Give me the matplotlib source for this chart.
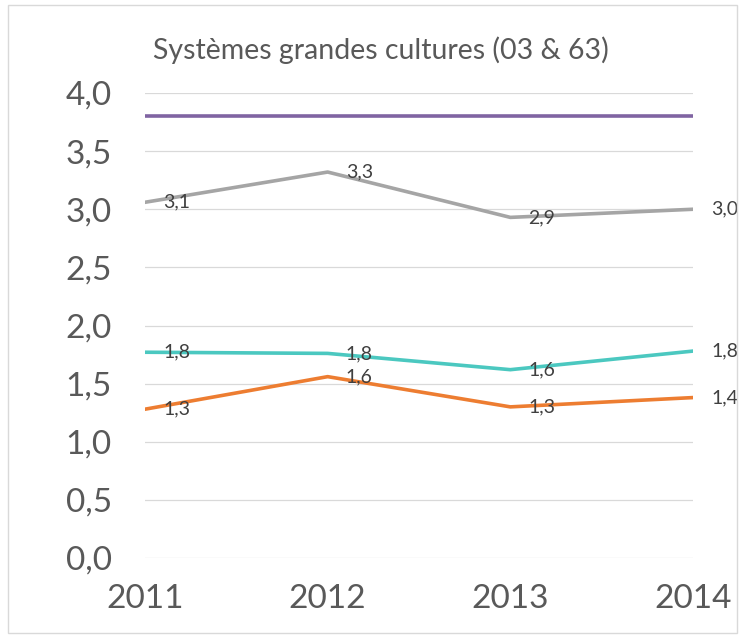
import matplotlib.pyplot as plt
from matplotlib.patches import Rectangle

# data
years = [2011, 2012, 2013, 2014]
purple = [3.8, 3.8, 3.8, 3.8]
gray = [3.06, 3.32, 2.93, 3.0]
cyan = [1.77, 1.76, 1.62, 1.78]
orange = [1.28, 1.56, 1.30, 1.38]
yticks = [0.0, 0.5, 1.0, 1.5, 2.0, 2.5, 3.0, 3.5, 4.0]

plt.rcParams['font.family'] = ['Lato', 'DejaVu Sans']

fig = plt.figure(figsize=(7.47, 6.41), dpi=100)
ax = fig.add_axes([145/747, 1-558/641, (693-145)/747, (558-93)/641])

# light frame around the chart area
fig.patches.append(Rectangle((8/747, 1-633/641), (737-8)/747, (633-5)/641,
                             transform=fig.transFigure, fill=False,
                             edgecolor='#D9D9D9', linewidth=1))

for yt in yticks:
    ax.axhline(yt, color='#D9D9D9', linewidth=0.9, zorder=1)

ax.plot(years, purple, color='#8064A2', linewidth=2.6, zorder=3)
ax.plot(years, gray, color='#A5A5A5', linewidth=2.6, zorder=3)
ax.plot(years, cyan, color='#4BC8C0', linewidth=2.6, zorder=3)
ax.plot(years, orange, color='#ED7D31', linewidth=2.6, zorder=3)

for series in [gray, cyan, orange]:
    for x, y in zip(years, series):
        ax.annotate('{:.1f}'.format(y).replace('.', ','), (x, y),
                    xytext=(13, 0), textcoords='offset points',
                    ha='left', va='center', fontsize=14, color='#404040',
                    zorder=4, annotation_clip=False)

ax.set_xlim(2011, 2014)
ax.set_ylim(0, 4)
ax.set_xticks(years)
ax.set_xticklabels([str(y) for y in years])
ax.set_yticks(yticks)
ax.set_yticklabels(['{:.1f}'.format(v).replace('.', ',') for v in yticks])
ax.tick_params(axis='both', length=0, labelsize=24, colors='#595959')
ax.tick_params(axis='y', pad=24)
ax.tick_params(axis='x', pad=19)
for s in ax.spines.values():
    s.set_visible(False)

fig.text(381/747, 1-50/641, 'Systèmes grandes cultures (03 & 63)',
         ha='center', va='center', fontsize=20.5, color='#595959')

fig.savefig('out.png', dpi=100)
